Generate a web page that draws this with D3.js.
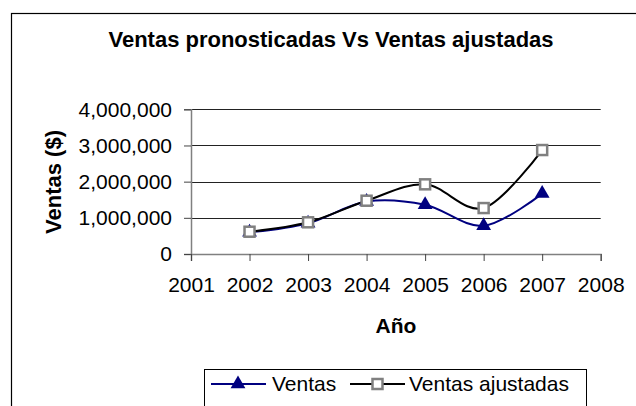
<!DOCTYPE html>
<html>
<head>
<meta charset="utf-8">
<script src="https://cdn.jsdelivr.net/npm/d3@7"></script>
<style>
  body { margin: 0; background: #fff; }
  text { font-family: "Liberation Sans", Arial, sans-serif; fill: #000; }
</style>
</head>
<body>
<script>
const years = [2002, 2003, 2004, 2005, 2006, 2007];
const ventas = [600000, 850000, 1450000, 1360000, 780000, 1670000];
const ventasAjustadas = [616000, 876000, 1473000, 1926000, 1270000, 2874000];
const yTicks = [0, 1000000, 2000000, 3000000, 4000000];
const xTicks = [2001, 2002, 2003, 2004, 2005, 2006, 2007, 2008];

const drawing = d3.select(document.body).append('svg')
  .attr('width', 636)
  .attr('height', 406);

// chart frame (runs off the right and bottom edge)
drawing.append('rect')
  .attr('x', 11.5).attr('y', 13.5)
  .attr('width', 640).attr('height', 420)
  .attr('fill', '#fff')
  .attr('stroke', '#000')
  .attr('stroke-width', 1.2);

const x = d3.scaleLinear().domain([2001, 2008]).range([191, 600.7]);
const y = d3.scaleLinear().domain([0, 4000000]).range([254, 109.3]);
const fmt = d3.format(',');

// gridlines
drawing.append('g').selectAll('line')
  .data(yTicks.filter(d => d > 0))
  .join('line')
  .attr('x1', x(2001)).attr('x2', x(2008))
  .attr('y1', d => Math.round(y(d)) + 0.5)
  .attr('y2', d => Math.round(y(d)) + 0.5)
  .attr('stroke', '#222')
  .attr('stroke-width', 1);

// y axis
const yAxis = drawing.append('g')
  .attr('transform', `translate(${x(2001)},0)`)
  .call(d3.axisLeft(y).tickValues(yTicks).tickFormat(fmt).tickSize(7).tickPadding(12));
yAxis.select('.domain').attr('stroke', '#808080').attr('stroke-width', 1.5);
yAxis.selectAll('.tick line').attr('stroke', '#444');
yAxis.selectAll('.tick text')
  .attr('font-size', 21).attr('font-family', '"Liberation Sans", Arial, sans-serif')
  .attr('fill', '#000');

// x axis
const xAxis = drawing.append('g')
  .attr('transform', `translate(0,${y(0)})`)
  .call(d3.axisBottom(x).tickValues(xTicks).tickFormat(d3.format('d')).tickSize(7).tickPadding(16.5));
xAxis.select('.domain').attr('stroke', '#808080').attr('stroke-width', 1.5);
xAxis.selectAll('.tick line').attr('stroke', '#444');
xAxis.selectAll('.tick text')
  .attr('font-size', 21).attr('font-family', '"Liberation Sans", Arial, sans-serif')
  .attr('fill', '#000');

// titles
drawing.append('text')
  .attr('x', 331).attr('y', 47)
  .attr('text-anchor', 'middle')
  .attr('font-size', 22).attr('font-weight', 'bold')
  .text('Ventas pronosticadas Vs Ventas ajustadas');

drawing.append('text')
  .attr('x', 396).attr('y', 333)
  .attr('text-anchor', 'middle')
  .attr('font-size', 21).attr('font-weight', 'bold')
  .text('Año');

drawing.append('text')
  .attr('transform', 'translate(61,182) rotate(-90)')
  .attr('text-anchor', 'middle')
  .attr('font-size', 22).attr('font-weight', 'bold')
  .text('Ventas ($)');

// series
const line = d3.line()
  .x(d => x(d[0]))
  .y(d => y(d[1]))
  .curve(d3.curveCardinal.tension(0));

const ventasPts = years.map((yr, i) => [yr, ventas[i]]);
const ajustPts = years.map((yr, i) => [yr, ventasAjustadas[i]]);

drawing.append('path')
  .attr('d', line(ventasPts))
  .attr('fill', 'none')
  .attr('stroke', '#000080')
  .attr('stroke-width', 2);

drawing.append('path')
  .attr('d', line(ajustPts))
  .attr('fill', 'none')
  .attr('stroke', '#000')
  .attr('stroke-width', 2);

const tri = d3.symbol().type(d3.symbolTriangle).size(95);

drawing.append('g').selectAll('path')
  .data(ventasPts)
  .join('path')
  .attr('transform', d => `translate(${x(d[0])},${y(d[1])})`)
  .attr('d', tri)
  .attr('fill', '#000080');

drawing.append('g').selectAll('rect')
  .data(ajustPts)
  .join('rect')
  .attr('x', d => x(d[0]) - 5).attr('y', d => y(d[1]) - 5)
  .attr('width', 10).attr('height', 10)
  .attr('fill', '#fff')
  .attr('stroke', '#808080')
  .attr('stroke-width', 2.5);

// legend
const legend = drawing.append('g');
legend.append('rect')
  .attr('x', 204.5).attr('y', 369.5)
  .attr('width', 382).attr('height', 50)
  .attr('fill', '#fff')
  .attr('stroke', '#000')
  .attr('stroke-width', 1);

legend.append('line')
  .attr('x1', 211).attr('x2', 266).attr('y1', 384).attr('y2', 384)
  .attr('stroke', '#000080').attr('stroke-width', 2);
legend.append('path')
  .attr('transform', 'translate(238,384)')
  .attr('d', tri)
  .attr('fill', '#000080');
legend.append('text')
  .attr('x', 272).attr('y', 384).attr('dy', '0.35em')
  .attr('font-size', 21)
  .text('Ventas');

legend.append('line')
  .attr('x1', 350).attr('x2', 405).attr('y1', 384).attr('y2', 384)
  .attr('stroke', '#000').attr('stroke-width', 2);
legend.append('rect')
  .attr('x', 372.5).attr('y', 379)
  .attr('width', 10).attr('height', 10)
  .attr('fill', '#fff')
  .attr('stroke', '#808080')
  .attr('stroke-width', 2.5);
legend.append('text')
  .attr('x', 409).attr('y', 384).attr('dy', '0.35em')
  .attr('font-size', 21)
  .text('Ventas ajustadas');
</script>
</body>
</html>
